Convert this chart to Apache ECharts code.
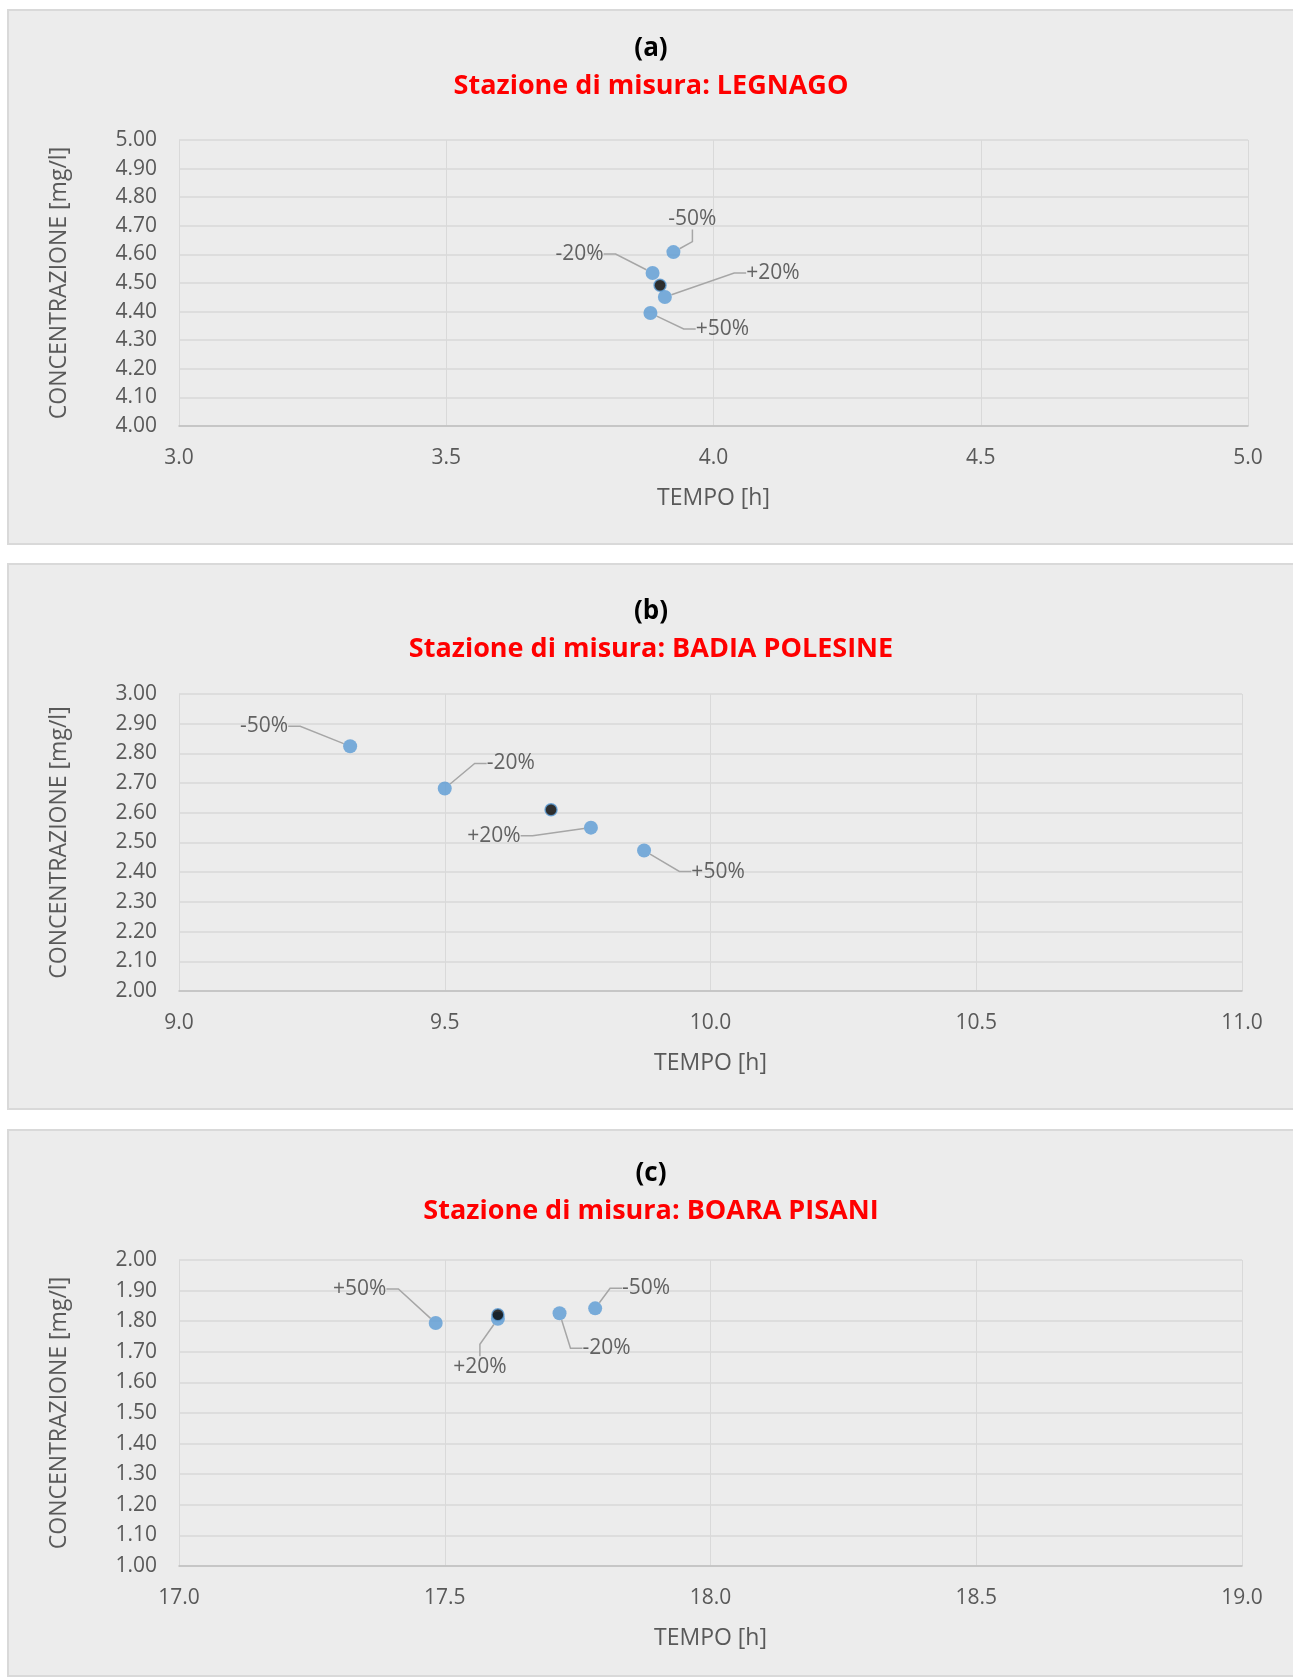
<!DOCTYPE html>
<html>
<head>
<meta charset="utf-8">
<script src="https://cdn.jsdelivr.net/npm/echarts@6/dist/echarts.min.js"></script>
<style>
  html, body { margin: 0; padding: 0; background: #ffffff; overflow: hidden; }
  body { width: 1293px; height: 1679px; position: relative; }
  .panel {
    position: absolute;
    left: 7px;
    width: 1286px;
    box-sizing: border-box;
    border: 2px solid #d9d9d9;
    border-right: none;
    background: #ececec;
  }
  .chart { width: 100%; height: 100%; }
</style>
</head>
<body>
<div class="panel" style="top: 9px; height: 536px;"><div id="chartA" class="chart"></div></div>
<div class="panel" style="top: 563px; height: 547px;"><div id="chartB" class="chart"></div></div>
<div class="panel" style="top: 1129px; height: 548px;"><div id="chartC" class="chart"></div></div>

<script>
// etichette delle variazioni
const pctLabels = ['-50%', '-20%', '+20%', '+50%'];

// (a) LEGNAGO
const legnagoTime = [3.925, 3.886, 3.909, 3.882];
const legnagoConc = [4.608, 4.535, 4.451, 4.395];
const legnagoBase = [3.900, 4.492];

// (b) BADIA POLESINE
const badiaTime = [9.322, 9.500, 9.775, 9.875];
const badiaConc = [2.824, 2.682, 2.550, 2.473];
const badiaBase = [9.700, 2.610];

// (c) BOARA PISANI
const boaraTime = [17.783, 17.716, 17.600, 17.483];
const boaraConc = [1.842, 1.826, 1.808, 1.794];
const boaraBase = [17.600, 1.821];

// assi: [min, max, passo]
const legnagoX = [3.0, 5.0, 0.5];
const legnagoY = [4.0, 5.0, 0.1];
const badiaX = [9.0, 11.0, 0.5];
const badiaY = [2.0, 3.0, 0.1];
const boaraX = [17.0, 19.0, 0.5];
const boaraY = [1.0, 2.0, 0.1];

// posizione delle etichette rispetto al punto (px)
const offsetsA = [[19, -33], [-73, -19], [108, -24], [72, 16]];
const offsetsB = [[-86, -20], [66, -25], [-97, 8], [74, 21]];
const offsetsC = [[51, -20], [47, 35], [-18, 48], [-76, -34]];

const FONT = '"Open Sans", "Noto Sans", sans-serif';
const GRAY = '#595959';

const buildOption = (cfg) => {
  const points = cfg.time.map((t, i) => ({
    value: [t, cfg.conc[i]],
    name: pctLabels[i],
    label: { offset: cfg.offsets[i] }
  }));

  return {
    animation: false,
    backgroundColor: 'transparent',
    title: [
      {
        text: cfg.letter,
        left: 'center',
        top: cfg.titleTop,
        textStyle: { color: '#000000', fontSize: 26, fontWeight: 'bold', fontFamily: FONT }
      },
      {
        text: cfg.station,
        left: 'center',
        top: cfg.titleTop + 37.5,
        textStyle: { color: '#ff0000', fontSize: 27, fontWeight: 'bold', fontFamily: FONT }
      }
    ],
    grid: {
      left: 170,
      top: 129,
      width: cfg.gridWidth,
      height: cfg.gridHeight
    },
    xAxis: {
      type: 'value',
      min: cfg.xAxis[0],
      max: cfg.xAxis[1],
      interval: cfg.xAxis[2],
      name: 'TEMPO [h]',
      nameLocation: 'middle',
      nameGap: 61,
      nameTextStyle: { color: GRAY, fontSize: 23, fontFamily: FONT },
      axisLine: { show: true, lineStyle: { color: '#bfbfbf', width: 1.5 } },
      axisTick: { show: false },
      axisLabel: {
        color: GRAY,
        fontSize: 21,
        fontFamily: FONT,
        margin: 22,
        formatter: (v) => v.toFixed(1)
      },
      splitLine: { show: true, lineStyle: { color: '#d9d9d9', width: 1 } }
    },
    yAxis: {
      type: 'value',
      min: cfg.yAxis[0],
      max: cfg.yAxis[1],
      interval: cfg.yAxis[2],
      name: 'CONCENTRAZIONE [mg/l]',
      nameLocation: 'middle',
      nameGap: 108,
      nameTextStyle: { color: GRAY, fontSize: 23, fontFamily: FONT },
      axisLine: { show: false },
      axisTick: { show: false },
      axisLabel: {
        color: GRAY,
        fontSize: 21,
        fontFamily: FONT,
        margin: 22,
        formatter: (v) => v.toFixed(2)
      },
      splitLine: { show: true, lineStyle: { color: '#d9d9d9', width: 1.5 } }
    },
    series: [
      {
        name: 'variazioni',
        type: 'scatter',
        data: points,
        symbolSize: 14,
        itemStyle: { color: '#5b9bd5' },
        label: {
          show: true,
          position: 'inside',
          align: 'center',
          verticalAlign: 'middle',
          padding: [3, 6],
          formatter: '{b}',
          color: '#404040',
          fontSize: 21,
          fontFamily: FONT,
          textBorderWidth: 0,
          textBorderColor: 'transparent'
        },
        labelLine: {
          show: true,
          length2: 12,
          lineStyle: { color: '#a6a6a6', width: 1.5 }
        },
        z: 2
      },
      {
        name: 'base',
        type: 'scatter',
        data: [cfg.base],
        symbolSize: 12,
        itemStyle: { color: '#000000', borderColor: '#5b9bd5', borderWidth: 1.5 },
        z: 3
      }
    ]
  };
};

const charts = [
  {
    id: 'chartA', letter: '(a)', station: 'Stazione di misura: LEGNAGO', titleTop: 19.5,
    time: legnagoTime, conc: legnagoConc, base: legnagoBase,
    xAxis: legnagoX, yAxis: legnagoY, offsets: offsetsA,
    gridWidth: 1069, gridHeight: 286
  },
  {
    id: 'chartB', letter: '(b)', station: 'Stazione di misura: BADIA POLESINE', titleTop: 28.5,
    time: badiaTime, conc: badiaConc, base: badiaBase,
    xAxis: badiaX, yAxis: badiaY, offsets: offsetsB,
    gridWidth: 1063, gridHeight: 297
  },
  {
    id: 'chartC', letter: '(c)', station: 'Stazione di misura: BOARA PISANI', titleTop: 24.5,
    time: boaraTime, conc: boaraConc, base: boaraBase,
    xAxis: boaraX, yAxis: boaraY, offsets: offsetsC,
    gridWidth: 1063, gridHeight: 306
  }
];

charts.forEach((cfg) => {
  const chart = echarts.init(document.getElementById(cfg.id), null, { renderer: 'canvas' });
  chart.setOption(buildOption(cfg));
});
</script>
</body>
</html>
